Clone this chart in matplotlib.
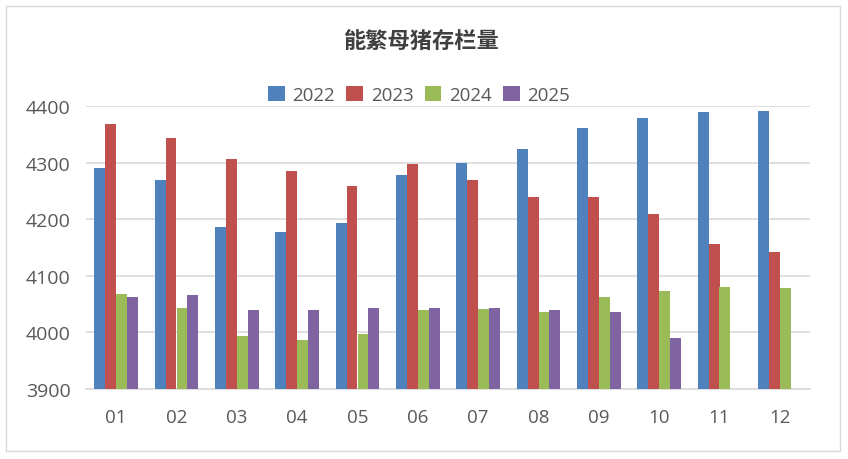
import numpy as np
from matplotlib import pyplot as plt
from matplotlib.patches import Rectangle

plt.rcParams['font.family'] = ['Open Sans', 'Noto Sans CJK SC', 'DejaVu Sans']

months = ["01", "02", "03", "04", "05", "06", "07", "08", "09", "10", "11", "12"]
years = ["2022", "2023", "2024", "2025"]
sow_2022 = [4290, 4269, 4186, 4177, 4193, 4278, 4299, 4324, 4362, 4378, 4389, 4391]
sow_2023 = [4368, 4343, 4306, 4285, 4258, 4297, 4270, 4240, 4240, 4210, 4157, 4142]
sow_2024 = [4067, 4043, 3993, 3986, 3997, 4039, 4041, 4036, 4062, 4073, 4080, 4078]
sow_2025 = [4062, 4066, 4039, 4039, 4043, 4043, 4043, 4039, 4036, 3990, np.nan, np.nan]
colors = ["#4F81BD", "#C0504D", "#9BBB59", "#8064A2"]

fig = plt.figure(figsize=(8.48, 4.6), dpi=100)
ax = fig.add_axes([86 / 848, 70 / 460, 724 / 848, 283 / 460])

# outer chart border
fig.patches.append(Rectangle((6 / 848, 8 / 460), 834 / 848, 445 / 460,
                             transform=fig.transFigure, fill=False,
                             edgecolor="#d9d9d9", linewidth=1))

x = np.arange(len(months))
w = 0.182
for i, (yr, vals) in enumerate(zip(years, [sow_2022, sow_2023, sow_2024, sow_2025])):
    vals = np.array(vals, dtype=float)
    ax.bar(x + (i - 1.5) * w, vals - 3900, bottom=3900, width=w,
           color=colors[i], label=yr, zorder=3)

ax.set_xlim(-0.5, len(months) - 0.5)
ax.set_ylim(3900, 4400)
ax.set_yticks(np.arange(3900, 4401, 100))
ax.set_xticks(x)
ax.set_xticklabels(months)
ax.grid(axis="y", color="#d9d9d9", linewidth=1.2, zorder=0)
ax.tick_params(length=0, colors="#595959")
ax.tick_params(axis="x", pad=14, labelsize=13.5)
ax.tick_params(axis="y", pad=11, labelsize=14)
for s in ["top", "right", "left"]:
    ax.spines[s].set_visible(False)
ax.spines["bottom"].set_color("#d9d9d9")
ax.spines["bottom"].set_linewidth(1.2)

fig.text(0.497, 0.908, "能繁母猪存栏量", ha="center", va="center",
         fontsize=16, fontweight="bold", color="#404040",
         family=["Noto Sans CJK SC", "DejaVu Sans"])

ax.legend(loc="center", bbox_to_anchor=(0.46, 1.04), ncol=4, frameon=False,
          fontsize=13.5, labelcolor="#595959", handlelength=0.9, handleheight=0.9,
          handletextpad=0.4, columnspacing=0.6)

fig.savefig("out.png", dpi=100)
